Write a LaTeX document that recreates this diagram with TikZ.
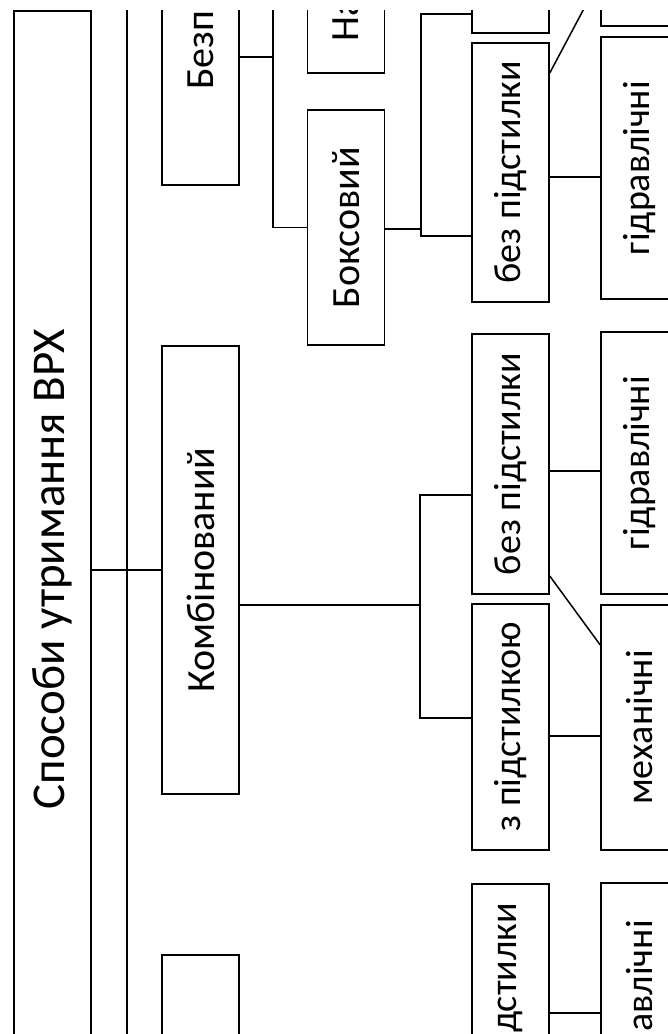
\documentclass[tikz,border=0pt]{standalone}
\usepackage{fontspec}
\setmainfont{Carlito}
\tikzset{
  box/.style={draw, line width=1.5pt, inner sep=0pt, minimum width=77pt},
  txt/.style={inner sep=0pt, font=\fontsize{38}{42}\selectfont},
  conn/.style={line width=1.5pt},
}
\newcommand{\rt}[1]{\rotatebox{90}{#1}}
\begin{document}
\begin{tikzpicture}[x=1pt,y=-1pt]
\useasboundingbox (0,0) rectangle (668,1034);
\begin{scope}
\clip (0,10) rectangle (668,1034);
% column 1
\node[box, minimum height=1116pt, font=\fontsize{47}{50}\selectfont] (main) at (52.5,569) {\rt{Способи утримання ВРХ}};
\coordinate (bustop) at (127,0);
\coordinate (busbot) at (127,1040);
% column 2
\node[box, minimum height=448pt] (bezp) at (200.5,-39) {};
\node[txt, rotate=90, anchor=west, font=\fontsize{40}{44}\selectfont] (tbezp) at (200.5,90) {Безп};
\node[box, minimum height=448pt, font=\fontsize{40}{44}\selectfont] (komb) at (200.5,570) {\rt{Комбінований}};
\node[box, minimum height=448pt] (pryv) at (200.5,1179) {};
% column 3
\node[box, minimum height=235pt] (na) at (346,-44.5) {};
\node[txt, rotate=90, anchor=west, font=\fontsize{40}{44}\selectfont] (tna) at (346,42) {На};
\node[box, minimum height=235pt, font=\fontsize{40}{44}\selectfont] (boks) at (346,227.5) {\rt{Боксовий}};
% column 4
\node[box, minimum height=246pt] (z1) at (510.5,-90) {};
\node[box, minimum height=259pt, font=\fontsize{38}{42}\selectfont] (bez1) at (510.5,172.5) {\rt{без підстилки}};
\node[box, minimum height=260pt, font=\fontsize{38}{42}\selectfont] (bez2) at (510.5,464) {\rt{без підстилки}};
\node[box, minimum height=246pt, font=\fontsize{38}{42}\selectfont] (z2) at (510.5,727) {\rt{з підстилкою}};
\node[box, minimum height=260pt] (bez3) at (510.5,1014) {};
\node[txt, rotate=90, anchor=east] (tbez3) at (510.5,903) {дстилки};
% column 5
\node[box, minimum height=245pt] (m1) at (639.5,-96.5) {};
\node[box, minimum height=262pt, font=\fontsize{38}{42}\selectfont] (h1) at (639.5,168) {\rt{гідравлічні}};
\node[box, minimum height=262pt, font=\fontsize{38}{42}\selectfont] (h2) at (639.5,463) {\rt{гідравлічні}};
\node[box, minimum height=245pt, font=\fontsize{38}{42}\selectfont] (m2) at (639.5,727.5) {\rt{механічні}};
\node[box, minimum height=262pt] (h3) at (639.5,1014) {};
\node[txt, rotate=90, anchor=east] (th3) at (639.5,920) {авлічні};
% connectors
\draw[conn] (bustop) -- (busbot);
\draw[conn] (main.east |- komb.west) -- (komb.west);
\coordinate (j1) at (273,57);
\draw[conn] (bezp.east |- j1) -- (j1);
\draw[conn] (na.west) -| (j1 |- boks.west) -- (boks.west);
\coordinate (j2) at (421,229);
\coordinate (j2t) at (421,14);
\coordinate (j2b) at (421,236);
\draw[conn] (boks.east |- j2) -- (j2);
\draw[conn] (z1.west |- j2t) -- (j2t) -- (j2b) -- (bez1.west |- j2b);
\coordinate (j3) at (420,605);
\coordinate (j3t) at (420,495);
\coordinate (j3b) at (420,718);
\draw[conn] (komb.east |- j3) -- (j3);
\draw[conn] (bez2.west |- j3t) -- (j3t) -- (j3b) -- (z2.west |- j3b);
\draw[conn] (bez1.east |- 0,177) -- (h1.west |- 0,177);
\draw[conn] (bez1.east |- 0,73) -- (m1.west |- 0,-22);
\draw[conn] (bez2.east |- 0,471) -- (h2.west |- 0,471);
\draw[conn] (bez2.east |- 0,576) -- (m2.west |- 0,645);
\draw[conn] (z2.east |- 0,736) -- (m2.west |- 0,736);
\draw[conn] (bez3.east |- 0,1013) -- (h3.west |- 0,1013);
\end{scope}
\end{tikzpicture}
\end{document}
